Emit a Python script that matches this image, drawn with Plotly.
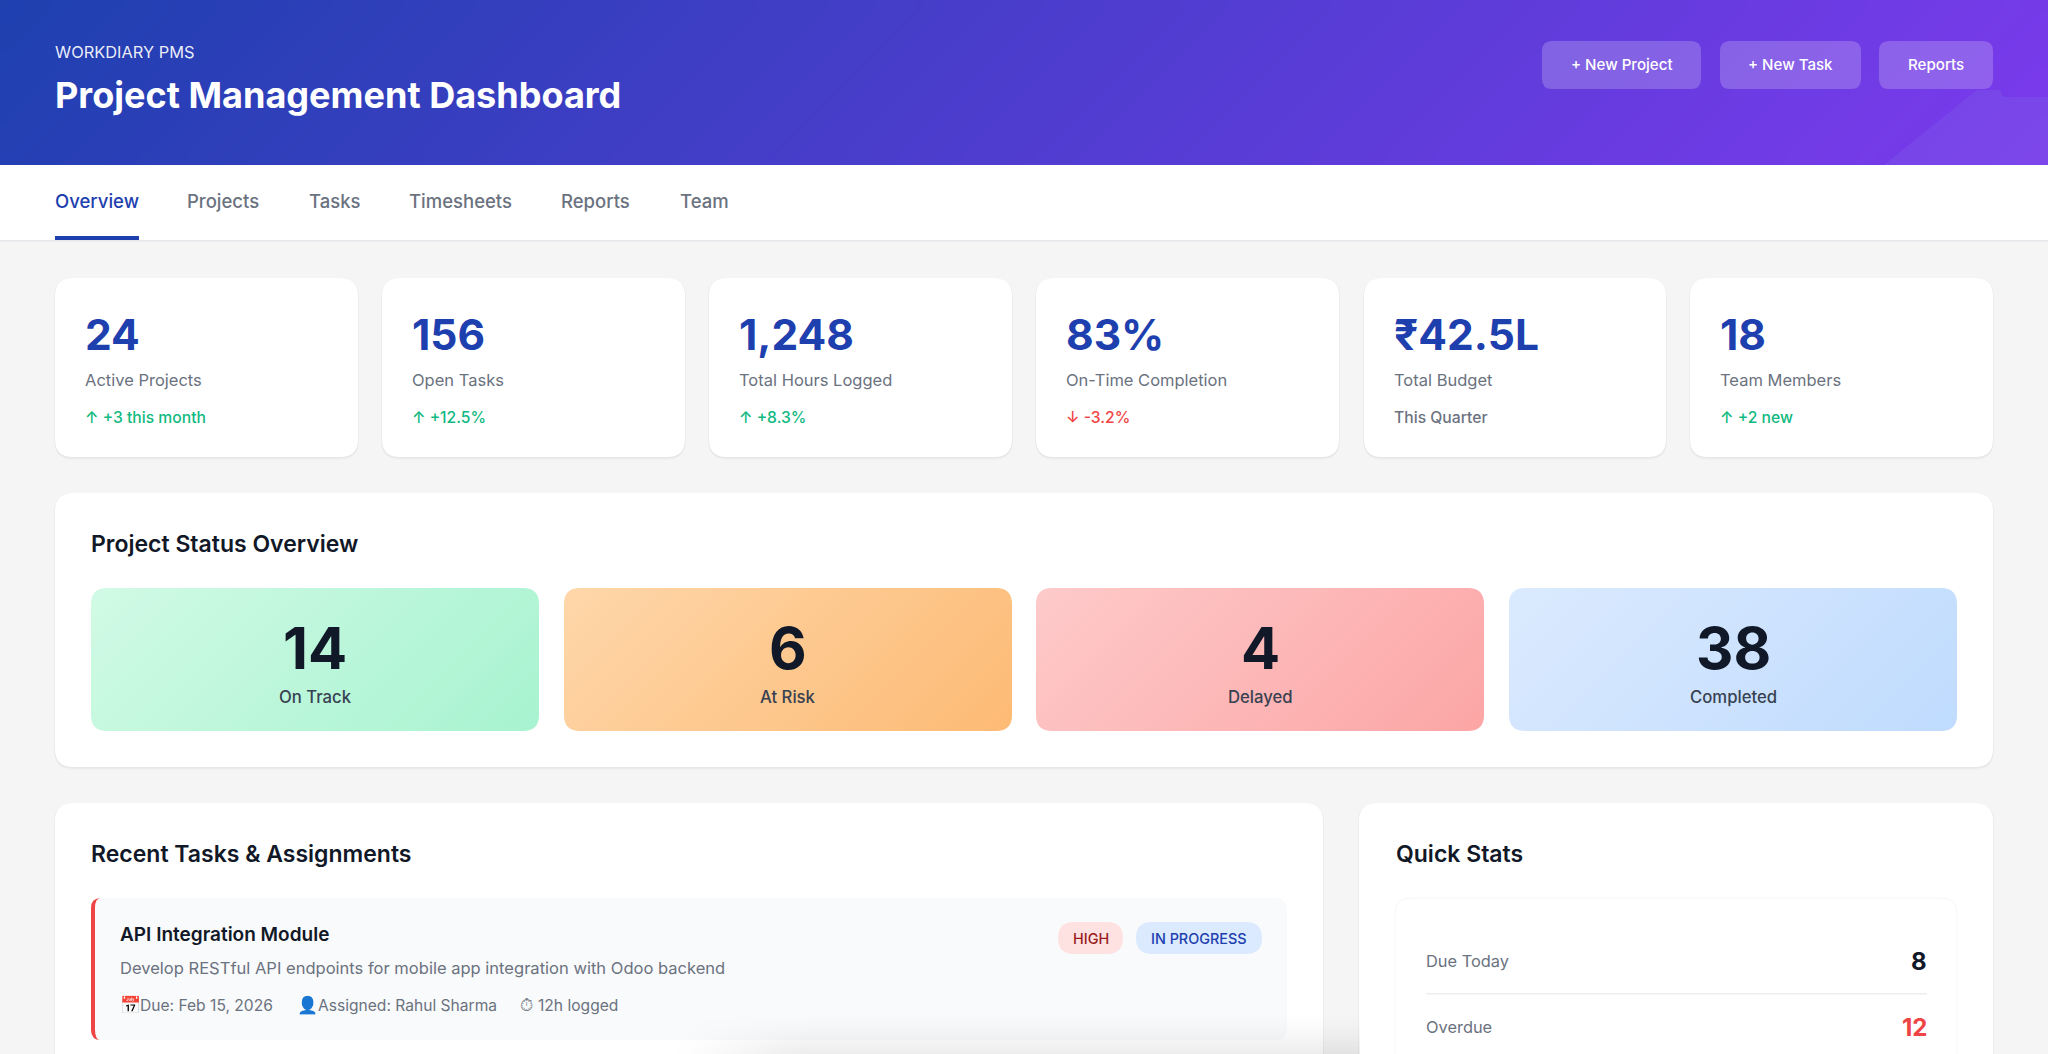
import numpy as np
import plotly.graph_objects as go

W, H = 2048, 1054
FONT = "Inter"

# ---- content -------------------------------------------------------------
eyebrow = "WORKDIARY PMS"
page_title = "Project Management Dashboard"
buttons = ["+ New Project", "+ New Task", "Reports"]
nav_items = ["Overview", "Projects", "Tasks", "Timesheets", "Reports", "Team"]
kpi_values = ["24", "156", "1,248", "83%", "₹42.5L", "18"]
kpi_labels = ["Active Projects", "Open Tasks", "Total Hours Logged", "On-Time Completion", "Total Budget", "Team Members"]
kpi_deltas = ["↑ +3 this month", "↑ +12.5%", "↑ +8.3%", "↓ -3.2%", "This Quarter", "↑ +2 new"]
kpi_delta_colors = ["#10b981", "#10b981", "#10b981", "#ef4444", "#6b7280", "#10b981"]
status_values = ["14", "6", "4", "38"]
status_labels = ["On Track", "At Risk", "Delayed", "Completed"]
status_from = ["#d1fae5", "#fed7aa", "#fecaca", "#dbeafe"]
status_to = ["#a7f3d0", "#fdba74", "#fca5a5", "#bfdbfe"]
task_title = "API Integration Module"
task_desc = "Develop RESTful API endpoints for mobile app integration with Odoo backend"
task_icons = ["📅", "👤", "⏱"]
task_icon_colors = ["#8a5a5a", "#3f6a9e", "#7b8088"]
task_meta = ["Due: Feb 15, 2026", "Assigned: Rahul Sharma", "12h logged"]
badges = ["HIGH", "IN PROGRESS"]
stat_labels = ["Due Today", "Overdue"]
stat_values = ["8", "12"]
stat_colors = ["#111827", "#ef4444"]

# ---- layout geometry (pixels) ---------------------------------------------
btn_boxes = [(1542, 1701), (1720, 1861), (1879, 1993)]
nav_x = [55, 187, 309, 408.5, 561, 680]
kpi_boxes = [(55, 358), (382, 685), (709, 1012), (1036, 1339), (1364, 1666), (1690, 1993)]
status_boxes = [(91, 539), (564, 1012), (1036, 1484), (1509, 1957)]
icon_x = [120, 297, 520]
meta_x = [139.7, 317.5, 538]
badge_boxes = [(1058, 1123), (1136, 1262)]
badge_colors = [("#fee2e2", "#991b1b"), ("#dbeafe", "#1e40af")]

shapes, notes = [], []


def rr(x0, y0, x1, y1, r, rb=None):
    rb = r if rb is None else rb
    return (f"M{x0+r},{y0} L{x1-r},{y0} Q{x1},{y0} {x1},{y0+r} L{x1},{y1-rb} Q{x1},{y1} {x1-rb},{y1} "
            f"L{x0+rb},{y1} Q{x0},{y1} {x0},{y1-rb} L{x0},{y0+r} Q{x0},{y0} {x0+r},{y0} Z")


def box(x0, y0, x1, y1, fill, r=0, layer="below", line=None):
    d = dict(type="path", path=rr(x0, y0, x1, y1, r), xref="x", yref="y", fillcolor=fill, layer=layer,
             line=dict(width=1, color=line) if line else dict(width=0))
    shapes.append(d)


def card(x0, y0, x1, y1, r=18):
    box(x0 - 1, y0, x1 + 1, y1 + 3, "rgba(0,0,0,0.02)", r + 1)
    box(x0 - .5, y0, x1 + .5, y1 + 1.5, "rgba(0,0,0,0.035)", r)
    box(x0, y0, x1, y1, "#ffffff", r)


def text(x, y, s, size, color, weight=400, anchor="left"):
    notes.append(dict(x=x, y=y, xref="x", yref="y", text=s, showarrow=False, xanchor=anchor, yanchor="middle",
                      borderpad=0, borderwidth=0,
                      font=dict(family=FONT, size=size, color=color, weight=weight)))


def corner_masks(x0, y0, x1, y1, r, color):
    paths = [f"M{x0},{y0} L{x0+r},{y0} Q{x0},{y0} {x0},{y0+r} Z",
             f"M{x1},{y0} L{x1-r},{y0} Q{x1},{y0} {x1},{y0+r} Z",
             f"M{x0},{y1} L{x0+r},{y1} Q{x0},{y1} {x0},{y1-r} Z",
             f"M{x1},{y1} L{x1-r},{y1} Q{x1},{y1} {x1},{y1-r} Z"]
    for p in paths:
        shapes.append(dict(type="path", path=p, xref="x", yref="y", fillcolor=color, layer="above", line=dict(width=0)))


def gradient(x0, y0, x1, y1, c0, c1, step=8):
    # CSS linear-gradient(135deg, c0, c1)
    xe = np.arange(x0, x1 + step, step, dtype=float)
    xe[-1] = x1
    xe = xe[xe <= x1]
    ye = np.arange(y0, y1 + step, step, dtype=float)
    ye[-1] = y1
    ye = ye[ye <= y1]
    xc, yc = (xe[:-1] + xe[1:]) / 2, (ye[:-1] + ye[1:]) / 2
    z = ((xc[None, :] - x0) + (yc[:, None] - y0)) / ((x1 - x0) + (y1 - y0))
    return go.Heatmap(x=xe, y=ye, z=np.round(z, 4).tolist(), zmin=0, zmax=1, colorscale=[[0, c0], [1, c1]],
                      showscale=False, hoverinfo="skip", zsmooth="best")


traces = []

# header
traces.append(gradient(0, 0, W, 165, "#1e40af", "#7c3aed", step=16))
shapes.append(dict(type="path", path="M1884,165 L1977,90 L2000,90 L2003,97 L2048,97 L2048,165 Z", xref="x", yref="y",
                   fillcolor="rgba(125,95,232,0.35)", layer="above", line=dict(width=0)))
for (a, b) in btn_boxes:
    box(a, 41, b, 89, "rgba(255,255,255,0.2)", 10, layer="above")
text(55, 52, eyebrow, 16.4, "rgba(255,255,255,0.92)", 400)
text(55, 95, page_title, 36.05, "#ffffff", 700)
for (a, b), s in zip(btn_boxes, buttons):
    text((a + b) / 2, 64.5, s, 15.1, "#ffffff", 500, "center")

# nav
box(0, 165, W, 240, "#ffffff")
box(0, 240, W, 241.5, "#e5e7eb")
box(55, 236, 139, 240, "#1e40af", layer="above")
for i, (x, s) in enumerate(zip(nav_x, nav_items)):
    text(x, 201, s, 18.5, "#1e40af" if i == 0 else "#6b7280", 500)

# KPI cards
for (a, b), v, l, d, c in zip(kpi_boxes, kpi_values, kpi_labels, kpi_deltas, kpi_delta_colors):
    card(a, 278, b, 457)
    text(a + 30, 334, v, 42.5, "#1e40af", 700)
    text(a + 30, 379.5, l, 16.5, "#6b7280", 400)
    text(a + 30, 417, d, 15.7, c, 500)

# status section
card(55, 493, 1993, 767)
text(91, 544.4, "Project Status Overview", 23, "#111827", 600)
for (a, b), v, l, c0, c1 in zip(status_boxes, status_values, status_labels, status_from, status_to):
    traces.append(gradient(a, 588, b, 731, c0, c1, step=8))
    corner_masks(a, 588, b, 731, 16, "#ffffff")
    text((a + b) / 2, 648, v, 58, "#111827", 700, "center")
    text((a + b) / 2, 696.5, l, 16.7, "#374151", 500, "center")

# bottom-left card
card(55, 803, 1323, H + 40)
text(91, 854.4, "Recent Tasks & Assignments", 23, "#111827", 600)
box(91, 898, 1287, 1040, "#f9fafb", 12)
shapes.append(dict(type="path", path="M101,898 Q91,898 91,908 L91,1030 Q91,1040 101,1040 Q95,1040 95,1030 L95,908 Q95,898 101,898 Z",
                   xref="x", yref="y", fillcolor="#ef4444", layer="below", line=dict(width=0)))
text(120, 934.5, task_title, 19, "#111827", 600)
text(120, 968, task_desc, 16.55, "#6b7280", 400)
for ix, tx, ic, cc, s in zip(icon_x, meta_x, task_icons, task_icon_colors, task_meta):
    text(ix, 1005, ic, 17, cc, 400)
    text(tx, 1005, s, 15.6, "#6b7280", 400)
for (a, b), (bg, fg), s in zip(badge_boxes, badge_colors, badges):
    box(a, 922, b, 954, bg, 16)
    text((a + b) / 2, 938, s, 14.4, fg, 500, "center")

# quick stats card
card(1359, 803, 1993, H + 40)
text(1396, 854.4, "Quick Stats", 23, "#111827", 600)
box(1395, 898, 1957, H + 40, "#ffffff", 16, line="#f6f6f7")
box(1426, 993, 1927, 994.5, "#eeeeef")
for y, l, v, c in zip([961, 1027], stat_labels, stat_values, stat_colors):
    text(1426, y, l, 16.4, "#6b7280", 400)
    text(1927, y, v, 24, c, 700, "right")

# soft shadow rising from beneath the fold
sx = np.arange(660, 1361, 20, dtype=float)
sy = np.arange(1010, 1055, 4, dtype=float)
sxc, syc = (sx[:-1] + sx[1:]) / 2, (sy[:-1] + sy[1:]) / 2
sz = np.clip((sxc[None, :] - 680) / 120, 0, 1) * ((syc[:, None] - 1010) / 44) ** 1.6
traces.append(go.Heatmap(x=sx, y=sy, z=np.round(sz, 3).tolist(), zmin=0, zmax=1, showscale=False, hoverinfo="skip",
                         zsmooth="best", colorscale=[[0, "rgba(0,0,0,0)"], [1, "rgba(0,0,0,0.075)"]]))

fig = go.Figure(traces)
fig.update_layout(width=W, height=H, margin=dict(l=0, r=0, t=0, b=0), paper_bgcolor="#f5f5f5", plot_bgcolor="rgba(0,0,0,0)",
                  showlegend=False, shapes=shapes, annotations=notes,
                  xaxis=dict(range=[0, W], visible=False, fixedrange=True),
                  yaxis=dict(range=[H, 0], visible=False, fixedrange=True))
fig.write_html("out.html", config=dict(displayModeBar=False),
               post_script="document.body.style.margin='0';document.body.style.overflow='hidden';")
